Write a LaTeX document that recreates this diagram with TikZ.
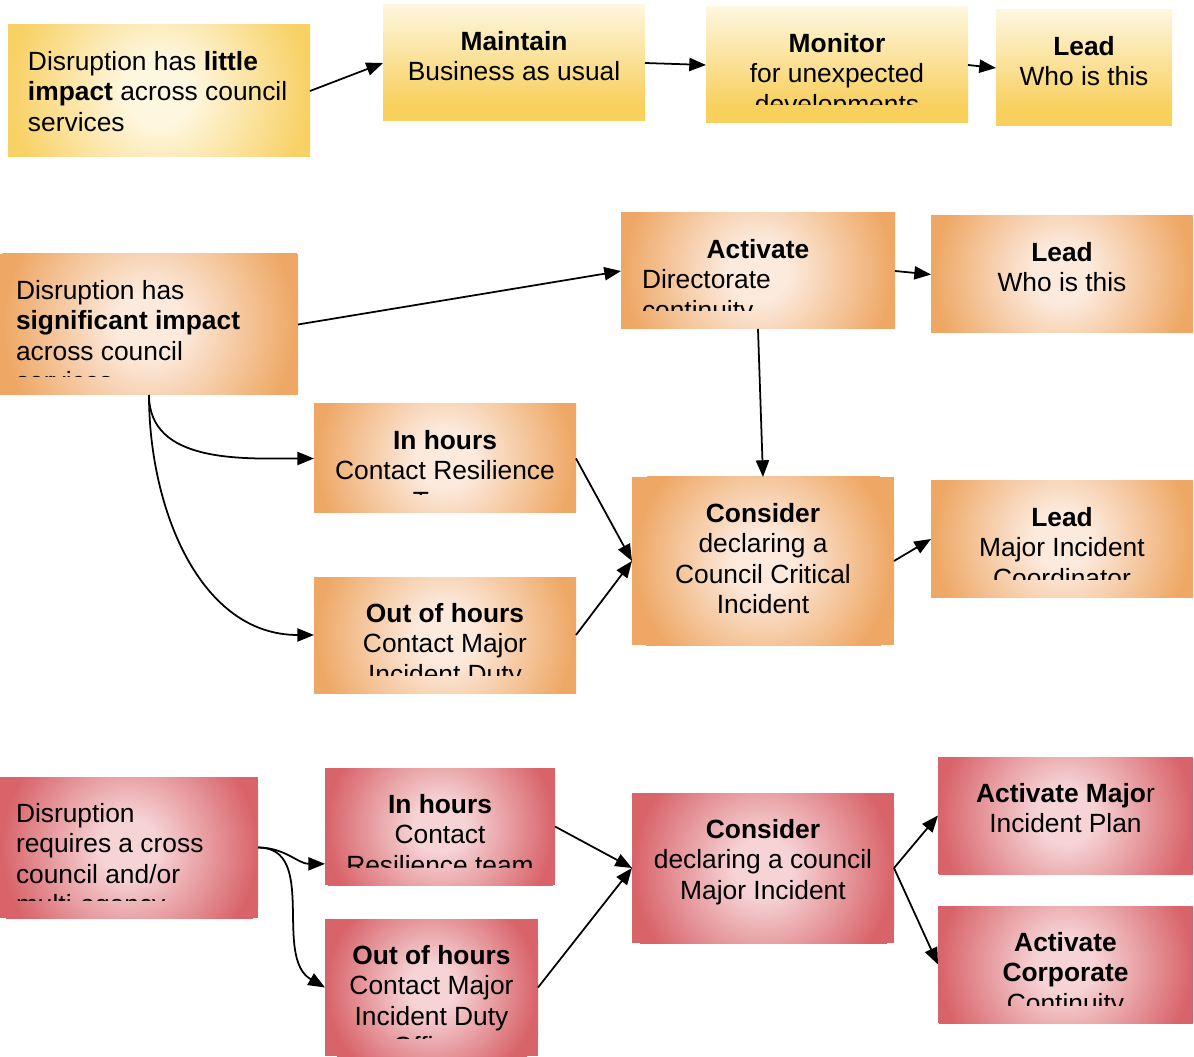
\documentclass[tikz,border=0pt]{standalone}
\usepackage{fontspec}
\setmainfont{Liberation Sans}
\usetikzlibrary{arrows.meta, calc}
\definecolor{ytop}{HTML}{FEF7E0}
\definecolor{ybot}{HTML}{F8D05E}
\definecolor{yin}{HTML}{FEF7E0}
\definecolor{yout}{HTML}{F8D165}
\definecolor{orin}{HTML}{FCEADD}
\definecolor{orout}{HTML}{EEA764}
\definecolor{rdin}{HTML}{F6D4D6}
\definecolor{rdout}{HTML}{D8646A}
\pgfdeclareverticalshading{ylin}{100bp}{color(0bp)=(ybot); color(17bp)=(ybot); color(98bp)=(ytop); color(100bp)=(ytop)}
\pgfdeclareradialshading{yglow}{\pgfpoint{0bp}{0bp}}{color(0bp)=(yin); color(10bp)=(yin); color(45bp)=(yout); color(50bp)=(yout)}
\pgfdeclareradialshading{orglow}{\pgfpoint{0bp}{0bp}}{color(0bp)=(orin); color(10bp)=(orin); color(45bp)=(orout); color(50bp)=(orout)}
\pgfdeclareradialshading{rdglow}{\pgfpoint{0bp}{0bp}}{color(0bp)=(rdin); color(10bp)=(rdin); color(45bp)=(rdout); color(50bp)=(rdout)}
\tikzset{
	card/.style={inner sep=0pt, outer sep=0pt, anchor=north west},
	plain/.style={anchor=center, minimum width=0pt, minimum height=0pt, fill=none, draw=none},
	ylin/.style={fill=ybot},
	ylin back/.style 2 args={xscale=#1*0.021/3.5278, yscale=#2*0.021/3.5278},
	yglow/.style={fill=yout},
	yglow back/.style 2 args={scale=#1*0.022/3.5278},
	orglow/.style={fill=orout},
	orglow back/.style 2 args={scale=#1*0.022/3.5278},
	rdglow/.style={fill=rdout},
	rdglow back/.style 2 args={scale=#1*0.022/3.5278},
	cardtext/.style={plain, inner sep=0pt, font=\fontsize{15}{17.3}\selectfont},
	midtext/.style={anchor=north, align=center, at={($(path picture bounding box.north)+(0,-26.5)$)}},
	padtext/.style={anchor=north west, align=left, at={($(path picture bounding box.north west)+(#1,-26.5)$)}},
	link/.style={line width=1pt, -{Triangle[length=9.5pt,width=7.5pt]}}
}
% #1 name, #2 top left, #3 width, #4 height, #5 fill, #6 text placing, #7 text
\newcommand{\card}[7]{%
	\node[card, #5, minimum width=#3*0.02cm, minimum height=#4*0.02cm,
		path picture={
			\node[plain, inner sep=0pt, #5 back={#3}{#4}] at (path picture bounding box.center) {\pgfuseshading{#5}};
			\begin{scope}
				\clip ($(path picture bounding box.south west)+(0,18)$) rectangle (path picture bounding box.north east);
				\node[cardtext, #6] {#7};
			\end{scope}
		}] (#1) at (#2) {};}

\begin{document}
\begin{tikzpicture}[x=0.02cm, y=0.02cm]
	\useasboundingbox (0,0) rectangle (1194,-1057);
	% little impact
	\card{little}{8,-25}{302}{132}{yglow}{padtext=20}{Disruption has \textbf{little}\\ \textbf{impact} across council\\ services}
	\card{maintain}{383,-5}{262}{116}{ylin}{midtext}{\textbf{Maintain}\\ Business as usual}
	\card{monitor}{706,-7}{262}{116}{ylin}{midtext}{\textbf{Monitor}\\ for unexpected\\ developments}
	\card{leadone}{996,-10}{176}{116}{ylin}{midtext}{\textbf{Lead}\\ Who is this}
	% significant impact
	\card{signif}{0,-254}{298}{141}{orglow}{padtext=16}{Disruption has\\ \textbf{significant impact}\\ across council\\ services}
	\card{activate}{621,-213}{274}{116}{orglow}{padtext=21}{\makebox[132pt]{\textbf{Activate}}\\ Directorate\\ continuity}
	\card{leadtwo}{931,-216}{262}{117}{orglow}{midtext}{\textbf{Lead}\\ Who is this}
	\card{inhours}{314,-404}{262}{109}{orglow}{midtext}{\textbf{In hours}\\ Contact Resilience\\ Team}
	\card{outhours}{314,-577}{262}{116}{orglow}{midtext}{\textbf{Out of hours}\\ Contact Major\\ Incident Duty}
	\card{critical}{632,-477}{262}{168}{orglow}{midtext}{\textbf{Consider}\\ declaring a\\ Council Critical\\ Incident}
	\card{leadthree}{931,-481}{262}{116}{orglow}{midtext}{\textbf{Lead}\\ Major Incident\\ Coordinator}
	% cross council
	\card{cross}{0,-777}{258}{141}{rdglow}{padtext=16}{Disruption\\ requires a cross\\ council and/or\\ multi-agency}
	\card{xinhours}{325,-768}{230}{117}{rdglow}{midtext}{\textbf{In hours}\\ Contact\\ Resilience team}
	\card{xouthours}{325,-919}{213}{137}{rdglow}{midtext}{\textbf{Out of hours}\\ Contact Major\\ Incident Duty\\ Officer}
	\card{major}{632,-793}{262}{150}{rdglow}{midtext}{\textbf{Consider}\\ declaring a council\\ Major Incident}
	\card{plan}{938,-757}{255}{117}{rdglow}{midtext}{\textbf{Activate Majo}r\\ Incident Plan}
	\card{corporate}{938,-906}{255}{117}{rdglow}{midtext}{\textbf{Activate}\\ \textbf{Corporate}\\ Continuity}

	\draw[link] (little.east) -- (maintain.west);
	\draw[link] (maintain.east) -- (monitor.west);
	\draw[link] (monitor.east) -- (leadone.west);
	\draw[link] (signif.east) -- (activate.west);
	\draw[link] (activate.east) -- (leadtwo.west);
	\draw[link] (activate.south) -- (critical.north);
	\draw[link] (signif.south) to[out=-90, in=180] (inhours.west);
	\draw[link] (signif.south) to[out=-90, in=180] (outhours.west);
	\draw[link] (inhours.east) -- (critical.west);
	\draw[link] (outhours.east) -- (critical.west);
	\draw[link] (critical.east) -- (leadthree.west);
	\draw[link] (cross.east) to[out=0, in=180] (xinhours.198);
	\draw[link] (cross.east) to[out=0, in=150] (xouthours.west);
	\draw[link] (xinhours.east) -- (major.west);
	\draw[link] (xouthours.east) -- (major.west);
	\draw[link] (major.east) -- (plan.west);
	\draw[link] (major.east) -- (corporate.west);
\end{tikzpicture}
\end{document}
